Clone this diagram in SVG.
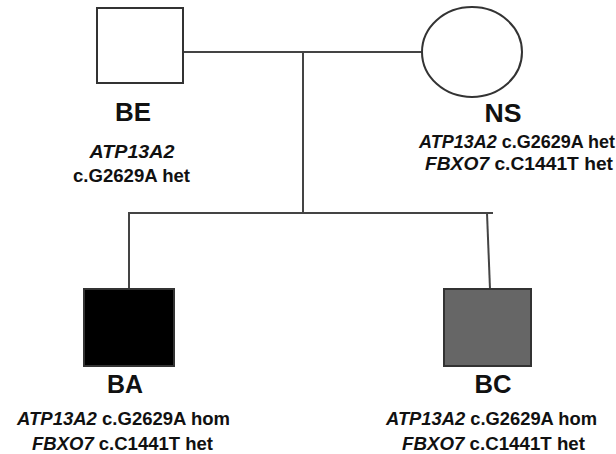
<svg xmlns="http://www.w3.org/2000/svg" width="616" height="454" viewBox="0 0 616 454">
<style>
.ln{stroke:#444;stroke-width:2;fill:none}
.nd{stroke:#333;stroke-width:2}
.nm{font-family:"Liberation Sans",Arial,sans-serif;font-weight:bold;font-size:26px;fill:#111;text-anchor:middle}
.gt{font-family:"Liberation Sans",Arial,sans-serif;font-weight:bold;font-size:18px;fill:#111;text-anchor:middle}
.g{font-style:italic}
</style>
<rect width="616" height="454" fill="#fff"/>
<g id="connectors">
<line class="ln" x1="183" y1="52" x2="422" y2="52"/>
<line class="ln" x1="303" y1="52" x2="303" y2="213"/>
<line class="ln" x1="128" y1="213" x2="493" y2="213"/>
<line class="ln" x1="129" y1="213" x2="129" y2="289"/>
<line class="ln" x1="487" y1="213" x2="490" y2="289"/>
</g>
<g id="BE">
<rect class="nd" x="97" y="8" width="86" height="75" fill="#fff"/>
<text class="nm" x="133" y="121" textLength="36" lengthAdjust="spacingAndGlyphs">BE</text>
<text class="gt g" x="132" y="158" textLength="85" lengthAdjust="spacingAndGlyphs">ATP13A2</text>
<text class="gt" x="131.5" y="182" textLength="117" lengthAdjust="spacingAndGlyphs">c.G2629A het</text>
</g>
<g id="NS">
<ellipse class="nd" cx="472" cy="52" rx="50" ry="45" fill="#fff"/>
<text class="nm" x="503" y="122" textLength="37" lengthAdjust="spacingAndGlyphs">NS</text>
<text class="gt" x="517" y="148" textLength="196" lengthAdjust="spacingAndGlyphs"><tspan class="g">ATP13A2</tspan> c.G2629A het</text>
<text class="gt" x="519" y="170" textLength="188" lengthAdjust="spacingAndGlyphs"><tspan class="g">FBXO7</tspan> c.C1441T het</text>
</g>
<g id="BA">
<rect class="nd" x="84" y="289" width="90" height="77" fill="#000"/>
<text class="nm" x="125" y="393" textLength="36" lengthAdjust="spacingAndGlyphs">BA</text>
<text class="gt" x="123.5" y="425" textLength="213" lengthAdjust="spacingAndGlyphs"><tspan class="g">ATP13A2</tspan> c.G2629A hom</text>
<text class="gt" x="122.5" y="450" textLength="181" lengthAdjust="spacingAndGlyphs"><tspan class="g">FBXO7</tspan> c.C1441T het</text>
</g>
<g id="BC">
<rect class="nd" x="444" y="289" width="87" height="77" fill="#666"/>
<text class="nm" x="493" y="393" textLength="37" lengthAdjust="spacingAndGlyphs">BC</text>
<text class="gt" x="491.5" y="425" textLength="211" lengthAdjust="spacingAndGlyphs"><tspan class="g">ATP13A2</tspan> c.G2629A hom</text>
<text class="gt" x="493.5" y="450" textLength="183" lengthAdjust="spacingAndGlyphs"><tspan class="g">FBXO7</tspan> c.C1441T het</text>
</g>
</svg>
